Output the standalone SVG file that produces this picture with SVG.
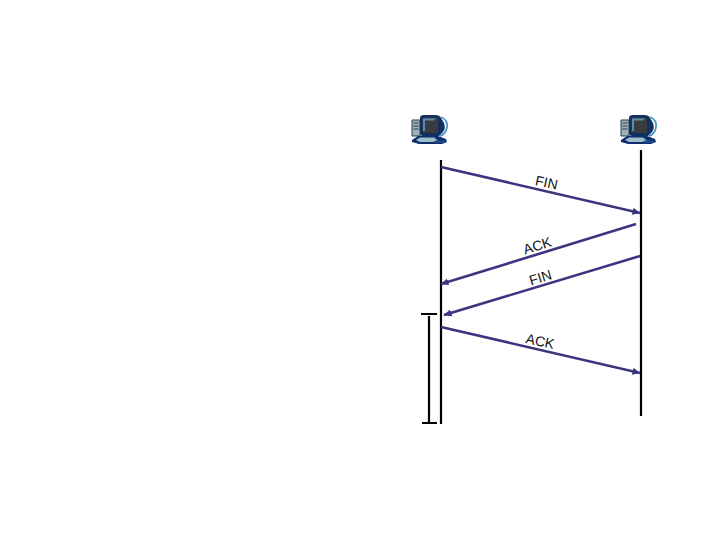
<svg xmlns="http://www.w3.org/2000/svg" width="720" height="540" viewBox="0 0 720 540">
<style>
.life{stroke:#000;stroke-width:2.2;fill:none}
.msg{stroke:#3b3580;stroke-width:2.6;fill:none;marker-end:url(#arrow)}
text{font-family:"Liberation Sans",Arial,sans-serif;font-size:14px;fill:#111}
</style>
<defs>
<marker id="arrow" markerUnits="userSpaceOnUse" markerWidth="9" markerHeight="8" refX="7.500" refY="4" orient="auto"><path d="M0 0.500L8 4L0 7.500z" fill="#3b3580"/></marker>
<g id="pc">
<path d="M1 6h8v16H1z" fill="#9fb0b6" stroke="#24404a" stroke-width="1"/>
<path d="M2.500 9h5M2.500 12h5M2.500 15h5" stroke="#24404a" stroke-width="1"/>
<path d="M9 4Q9 1 13 1h11q5 0 6 3l3 5q2 5-1 9l-4 4H12q-3 0-3-3z" fill="#10305f"/>
<path d="M11.500 5q0-1.500 2-1.500h11l2.500 1v13q0 1.500-2 1.500H13.500q-2 0-2-1.500z" fill="#3a3a40"/>
<path d="M12 4.500h13l-2 2H14v10l-2 1z" fill="#5a8fb0"/>
<path d="M30 3q7 3 6 10t-7 9" fill="none" stroke="#4f98c2" stroke-width="1.800"/>
<path d="M1 26l6-4h20l8 3 1 3-5 2H8l-7-2z" fill="#0f2d6d"/>
<path d="M5 26l4-2.500h14l4 3-5 1.500H9z" fill="#9cc0ca"/>
<path d="M24 26.500h10v2.500H24z" fill="#1a4a88"/>
</g>
</defs>
<g id="host-a"><use href="#pc" transform="translate(411,114)"/></g>
<g id="host-b"><use href="#pc" transform="translate(620,114)"/></g>
<g id="connectors">
<path class="life" d="M441 160V424"/>
<path class="life" d="M641 150V416"/>
<path class="life" d="M429 316V423M421 314H437M422 423H437"/>
<path class="msg" d="M441 167L640 213"/>
<path class="msg" d="M636 224L441 284"/>
<path class="msg" d="M640 256L444 315"/>
<path class="msg" d="M441 327L640 373"/>
</g>
<g id="labels">
<text transform="translate(534.500,185) rotate(12)">FIN</text>
<text transform="translate(525,254.500) rotate(-17)">ACK</text>
<text transform="translate(531,285.500) rotate(-17)">FIN</text>
<text transform="translate(525,343) rotate(12)">ACK</text>
</g>
</svg>
